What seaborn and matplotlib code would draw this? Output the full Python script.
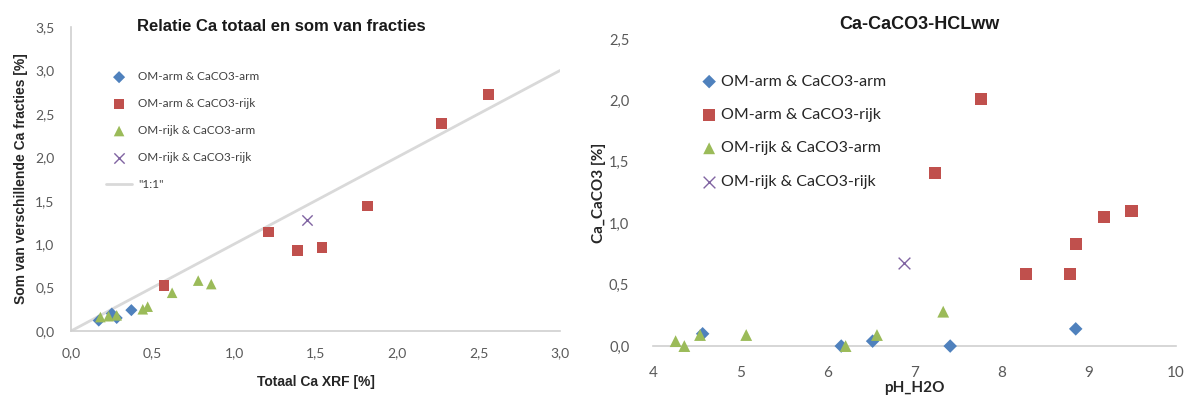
import matplotlib
matplotlib.use("Agg")
import matplotlib.pyplot as plt
import seaborn as sns
import pandas as pd
import numpy as np
from matplotlib.ticker import FixedLocator

sns.set_theme(style="white")
plt.rcParams['font.family'] = ['Lato', 'DejaVu Sans']

# ---------- data: left chart (Totaal Ca XRF vs som van fracties) ----------
left_blue_x = [0.17, 0.25, 0.28, 0.37]
left_blue_y = [0.12, 0.20, 0.15, 0.24]
left_red_x = [0.57, 1.21, 1.39, 1.54, 1.82, 2.27, 2.56]
left_red_y = [0.52, 1.14, 0.93, 0.96, 1.44, 2.39, 2.72]
left_green_x = [0.18, 0.23, 0.28, 0.44, 0.47, 0.62, 0.78, 0.86]
left_green_y = [0.16, 0.17, 0.18, 0.25, 0.28, 0.44, 0.58, 0.54]
left_purple_x = [1.45]
left_purple_y = [1.28]
one_to_one_x = [0.0, 3.0]
one_to_one_y = [0.0, 3.0]

# ---------- data: right chart (pH_H2O vs Ca_CaCO3) ----------
right_blue_x = [4.57, 6.16, 6.52, 7.41, 8.85]
right_blue_y = [0.10, 0.00, 0.04, 0.00, 0.14]
right_red_x = [7.24, 7.76, 8.28, 8.79, 8.85, 9.17, 9.49]
right_red_y = [1.41, 2.01, 0.59, 0.59, 0.83, 1.05, 1.10]
right_green_x = [4.26, 4.36, 4.54, 5.07, 6.21, 6.57, 7.33]
right_green_y = [0.04, 0.00, 0.09, 0.09, 0.00, 0.09, 0.28]
right_purple_x = [6.88]
right_purple_y = [0.68]

labels = ["OM-arm & CaCO3-arm", "OM-arm & CaCO3-rijk",
          "OM-rijk & CaCO3-arm", "OM-rijk & CaCO3-rijk"]
left_xticks = [0.0, 0.5, 1.0, 1.5, 2.0, 2.5, 3.0]
left_yticks = [0.0, 0.5, 1.0, 1.5, 2.0, 2.5, 3.0, 3.5]
right_xticks = [4, 5, 6, 7, 8, 9, 10]
right_yticks = [0.0, 0.5, 1.0, 1.5, 2.0, 2.5]

colors = ["#4F81BD", "#C0504D", "#9BBB59", "#8064A2"]
markers = ["D", "s", "^", "x"]
sizes = [38, 60, 58, 55]

fig = plt.figure(figsize=(11.9, 4.01), dpi=100)
axL = fig.add_axes([0.0597, 0.1746, 0.411, 0.758])
axR = fig.add_axes([0.5487, 0.137, 0.4395, 0.7656])

def comma(v, dec=1):
    return f"{v:.{dec}f}".replace(".", ",")

def style_axis(ax):
    for s in ["top", "right"]:
        ax.spines[s].set_visible(False)
    for s in ["left", "bottom"]:
        ax.spines[s].set_color("#D0D0D0")
        ax.spines[s].set_linewidth(1.2)
    ax.tick_params(axis="both", direction="out", length=5, width=1.0,
                   color="#D0D0D0", labelcolor="#595959", pad=4)
    ax.grid(False)

# ---- left chart ----
left_sets = [(left_blue_x, left_blue_y), (left_red_x, left_red_y),
             (left_green_x, left_green_y), (left_purple_x, left_purple_y)]
line_df = pd.DataFrame({"x": one_to_one_x, "y": one_to_one_y})
sns.lineplot(data=line_df, x="x", y="y", ax=axL, color="#D9D9D9", lw=2.0,
             label='"1:1"', zorder=1)
for (xs, ys), c, m, s, lab in zip(left_sets, colors, markers, sizes, labels):
    df = pd.DataFrame({"x": xs, "y": ys})
    if m == "x":
        sns.scatterplot(data=df, x="x", y="y", ax=axL, marker=m, color=c,
                        s=s, linewidth=1.0, label=lab, zorder=3)
    else:
        sns.scatterplot(data=df, x="x", y="y", ax=axL, marker=m, color=c,
                        s=s, edgecolor="none", label=lab, zorder=3)
axL.set_xlim(0, 3.0)
axL.set_ylim(0, 3.5)
axL.xaxis.set_major_locator(FixedLocator(left_xticks))
axL.yaxis.set_major_locator(FixedLocator(left_yticks))
axL.set_xticklabels([comma(v) for v in left_xticks], fontsize=10)
axL.set_yticklabels([comma(v) for v in left_yticks], fontsize=10)
style_axis(axL)
axL.tick_params(axis="x", pad=7)
axL.tick_params(axis="y", pad=7)
axL.set_xlabel("Totaal Ca XRF [%]", fontsize=10, fontweight="bold",
               family="Liberation Sans", color="#262626", labelpad=11)
axL.set_ylabel("Som van verschillende Ca fracties [%]", fontsize=10,
               fontweight="bold", family="Liberation Sans", color="#262626",
               labelpad=5)
axL.set_title("Relatie Ca totaal en som van fracties", fontsize=12,
              fontweight="bold", family="Liberation Sans", color="#1a1a1a",
              x=0.43, y=0.96)
h, l = axL.get_legend_handles_labels()
order = [l.index(x) for x in labels] + [l.index('"1:1"')]
legL = axL.legend([h[i] for i in order], [l[i] for i in order],
                  loc="upper left", bbox_to_anchor=(0.062, 0.87), frameon=False,
                  fontsize=8.5, labelspacing=1.35, handlelength=2.2,
                  handletextpad=0.5, borderaxespad=0)
for t in legL.get_texts():
    t.set_color("#404040")

# ---- right chart ----
right_sets = [(right_blue_x, right_blue_y), (right_red_x, right_red_y),
              (right_green_x, right_green_y), (right_purple_x, right_purple_y)]
for (xs, ys), c, m, s, lab in zip(right_sets, colors, markers, sizes, labels):
    df = pd.DataFrame({"x": xs, "y": ys})
    if m == "x":
        sns.scatterplot(data=df, x="x", y="y", ax=axR, marker=m, color=c,
                        s=s * 1.3, linewidth=1.0, label=lab, zorder=3,
                        clip_on=False)
    else:
        sns.scatterplot(data=df, x="x", y="y", ax=axR, marker=m, color=c,
                        s=s * 1.25, edgecolor="none", label=lab, zorder=3,
                        clip_on=False)
axR.set_xlim(4, 10)
axR.set_ylim(0, 2.5)
axR.xaxis.set_major_locator(FixedLocator(right_xticks))
axR.yaxis.set_major_locator(FixedLocator(right_yticks))
axR.set_xticklabels([str(v) for v in right_xticks], fontsize=11)
axR.set_yticklabels([comma(v) for v in right_yticks], fontsize=10.5)
style_axis(axR)
axR.spines["left"].set_visible(False)
axR.tick_params(axis="y", length=0, pad=17)
axR.tick_params(axis="x", pad=9)
axR.set_xlabel("pH_H2O", fontsize=11, fontweight="bold", color="#262626",
               labelpad=1)
axR.set_ylabel("Ca_CaCO3 [%]", fontsize=11, fontweight="bold", color="#262626",
               labelpad=2)
axR.set_title("Ca-CaCO3-HCLww", fontsize=13, fontweight="bold",
              family="Liberation Sans", color="#1a1a1a", x=0.51, y=1.005)
legR = axR.legend(loc="upper left", bbox_to_anchor=(0.083, 0.905), frameon=False,
                  fontsize=11.5, labelspacing=1.2, handlelength=0.8,
                  handletextpad=0.35, borderaxespad=0)
for t in legR.get_texts():
    t.set_color("#262626")

fig.savefig("out.png", dpi=100)
